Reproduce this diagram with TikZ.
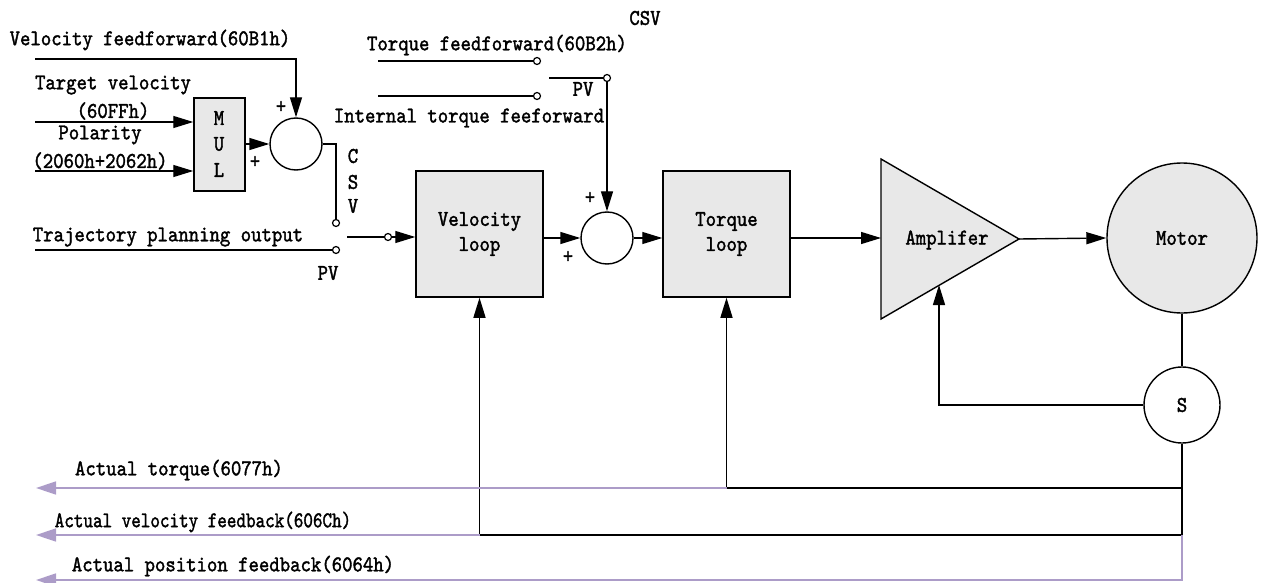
\documentclass[tikz,border=0pt]{standalone}
\usepackage{fontspec}
\setmainfont{lmmono10-regular.otf}[FakeBold=1.6,FakeStretch=0.88]
\usetikzlibrary{arrows.meta}
\definecolor{boxfill}{RGB}{232,232,232}
\definecolor{fbpurple}{RGB}{172,156,200}
\tikzset{
  arr/.style={-{Triangle[length=20pt,width=12pt]}},
  parr/.style={draw=fbpurple,-{Triangle[length=20pt,width=13pt]},line width=1.5pt},
  blockbox/.style={draw,fill=boxfill,line width=1.5pt,minimum width=127pt,minimum height=126pt,inner sep=0pt,align=center},
  sumnode/.style={draw,circle,fill=white,line width=1.4pt,minimum size=52pt,inner sep=0pt},
  term/.style={draw,circle,fill=white,line width=1.2pt,minimum size=7pt,inner sep=0pt},
  lbl/.style={inner sep=0pt,anchor=center},
}
\begin{document}
\begin{tikzpicture}[x=1pt,y=-1pt,line width=1.4pt,font=\fontsize{22.5pt}{25pt}\selectfont]
\useasboundingbox (0,0) rectangle (1267,583);

% blocks
\node[draw,fill=boxfill,line width=1.5pt,minimum width=51pt,minimum height=93pt,inner sep=0pt] (mul) at (219.5,144.5) {};
\node[lbl] (mulM) at (219,118) {M};
\node[lbl] (mulU) at (219,144) {U};
\node[lbl] (mulL) at (219,170) {L};
\node[sumnode] (sum1) at (296,144) {};
\node[blockbox] (vel) at (479.5,234) {Velocity\\[0pt]loop};
\node[sumnode] (sum2) at (607,238) {};
\node[blockbox] (tq) at (726.5,234) {Torque\\[0pt]loop};
\draw[fill=boxfill,line width=1.4pt] (881,159) coordinate (ampA) -- (1019,239) coordinate (ampO) -- (881,319) coordinate (ampB) -- cycle;
\node[lbl] (amptext) at (947,240) {Amplifer};
\coordinate (ampIn) at (881,238);
\coordinate (ampFb) at (939,285);
\node[draw,circle,fill=boxfill,line width=1.4pt,minimum size=150pt,inner sep=0pt] (motor) at (1182,238) {Motor};
\node[draw,circle,fill=white,line width=1.4pt,minimum size=76pt,inner sep=0pt] (sens) at (1182,405) {S};

% terminals
\node[term] (csvt) at (336,223) {};
\node[term] (pvt) at (336,250) {};
\node[term] (armt) at (388,237) {};
\node[term] (tfft) at (537,61) {};
\node[term] (itft) at (537,96) {};
\node[term] (pivt) at (607,78) {};

% coordinates of free ends
\coordinate (vffs) at (35,59);
\coordinate (tvs) at (35,122);
\coordinate (pols) at (35,171);
\coordinate (trajs) at (35,250);
\coordinate (arms) at (347,237);
\coordinate (tffs) at (378,61);
\coordinate (itfs) at (378,96);
\coordinate (pivs) at (549,78);
\coordinate (tqj) at (1182,488);
\coordinate (velj) at (1182,535);
\coordinate (posj) at (1182,580);
\coordinate (tqend) at (36,488);
\coordinate (velend) at (36,535);
\coordinate (posend) at (36,580);

% input connectors
\draw[arr] (vffs) -| (sum1.north);
\draw[arr] (tvs) -- (mul.west |- tvs);
\draw[arr] (pols) -- (mul.west |- pols);
\draw[arr] (mul.east |- sum1.west) -- (sum1.west);
\draw (sum1.east) -| (csvt.north);
\draw (trajs) -- (pvt.west);
\draw (arms) -- (armt.west);
\draw[arr] (armt.east) -- (vel.west |- armt);
\draw (tffs) -- (tfft.west);
\draw (itfs) -- (itft.west);
\draw (pivs) -- (pivt.west);
\draw[arr] (pivt.south) -- (sum2.north);

% forward path
\draw[arr] (vel.east |- sum2.west) -- (sum2.west);
\draw[arr] (sum2.east) -- (tq.west |- sum2.east);
\draw[arr] (tq.east |- ampIn) -- (ampIn);
\draw[arr] (ampO) -- (motor.west);
\draw (motor.south) -- (sens.north);
\draw[arr] (sens.west) -| (ampFb);

% feedback
\draw (sens.south) -- (velj);
\draw[arr] (tqj) -| (tq.south);
\draw[arr] (velj) -| (vel.south);
\draw[parr] (tq.south |- tqj) -- (tqend);
\draw[parr] (vel.south |- velj) -- (velend);
\draw[parr] (velj) -- (posj) -- (posend);

% labels
\node[lbl] (l1) at (150,40) {Velocity feedforward(60B1h)};
\node[lbl] (l2) at (113,85) {Target velocity};
\node[lbl] (l3) at (113,111) {(60FFh)};
\node[lbl] (l4) at (100,135) {Polarity};
\node[lbl] (l5) at (100,161) {(2060h+2062h)};
\node[lbl] (p1) at (281,107) {+};
\node[lbl] (p2) at (255,162) {+};
\node[lbl] (c1) at (353,156) {C};
\node[lbl] (c2) at (353,182) {S};
\node[lbl] (c3) at (353,206) {V};
\node[lbl] (l6) at (168,237) {Trajectory planning output};
\node[lbl] (l7) at (328,273) {PV};
\node[lbl] (l8) at (645,18) {CSV};
\node[lbl] (l9) at (497,45) {Torque feedforward(60B2h)};
\node[lbl] (l10) at (583,89) {PV};
\node[lbl] (l11) at (469,118) {Internal torque feeforward};
\node[lbl] (p3) at (590,198) {+};
\node[lbl] (p4) at (568,257) {+};
\node[lbl] (l12) at (179,470) {Actual torque(6077h)};
\node[lbl] (l13) at (203,522) {\scalebox{0.92}[1]{Actual velocity feedback(606Ch)}};
\node[lbl] (l14) at (233,566) {Actual position feedback(6064h)};
\end{tikzpicture}
\end{document}
